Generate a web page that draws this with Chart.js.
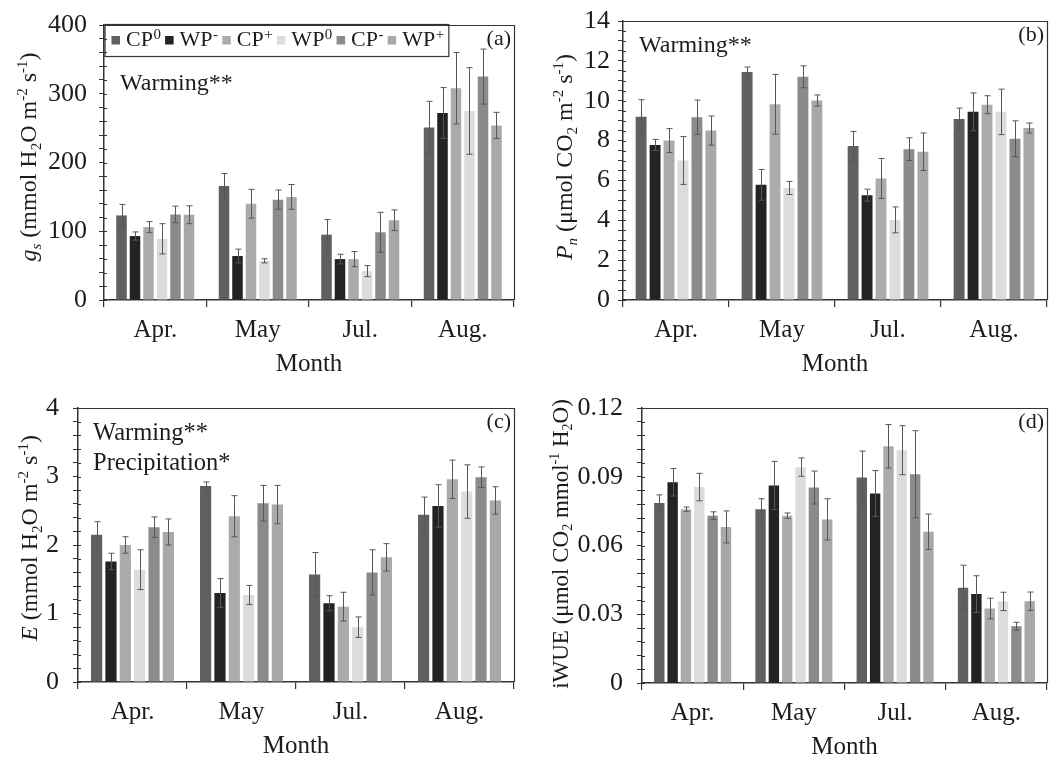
<!DOCTYPE html>
<html>
<head>
<meta charset="utf-8">
<script src="https://cdn.jsdelivr.net/npm/chart.js@4.4.1/dist/chart.umd.min.js"></script>
<style>
html,body{margin:0;padding:0;background:#fff;}
#wrap{position:relative;width:1063px;height:763px;overflow:hidden;background:#fff;}
canvas{position:absolute;}
</style>
</head>
<body>
<div id="wrap">
<canvas id="ca" width="531" height="381" style="left:0;top:0"></canvas>
<canvas id="cb" width="532" height="381" style="left:531px;top:0"></canvas>
<canvas id="cc" width="531" height="382" style="left:0;top:381px"></canvas>
<canvas id="cd" width="532" height="382" style="left:531px;top:381px"></canvas>
</div>
<script>
// ---------- categories & series ----------
const months = ['Apr.', 'May', 'Jul.', 'Aug.'];
const seriesNames = ['CP⁰', 'WP⁻', 'CP⁺', 'WP⁰', 'CP⁻', 'WP⁺'];
const seriesBase = ['CP', 'WP', 'CP', 'WP', 'CP', 'WP'];
const seriesSup = ['0', '-', '+', '0', '-', '+'];
const seriesColors = ['#606060', '#232323', '#ababab', '#dcdcdc', '#8b8b8b', '#a8a8a8'];

// ---------- (a) gs ----------
const gsMean = [
  [123, 166, 95, 251],
  [93, 64, 59.5, 272],
  [106, 140, 59.5, 308],
  [89, 57, 42, 275],
  [124.5, 146, 98.5, 325],
  [124, 150, 116, 254]
];
const gsErr = [
  [16, 18, 22, 38],
  [6, 10, 7, 37],
  [8, 21, 11, 52],
  [22, 3, 8, 63],
  [12, 14, 29, 40],
  [13, 18, 15, 19]
];
// ---------- (b) Pn ----------
const pnMean = [
  [9.2, 11.44, 7.73, 9.08],
  [7.78, 5.78, 5.26, 9.44],
  [8.0, 9.82, 6.1, 9.8],
  [7.0, 5.62, 4.02, 9.44],
  [9.17, 11.2, 7.57, 8.09],
  [8.5, 10.01, 7.44, 8.63]
];
const pnErr = [
  [0.85, 0.25, 0.73, 0.55],
  [0.28, 0.77, 0.3, 0.95],
  [0.6, 1.5, 1.0, 0.45],
  [1.2, 0.33, 0.65, 1.14],
  [0.86, 0.55, 0.57, 0.9],
  [0.73, 0.28, 0.94, 0.25]
];
// ---------- (c) E ----------
const eMean = [
  [2.15, 2.86, 1.57, 2.44],
  [1.76, 1.30, 1.15, 2.57],
  [2.0, 2.42, 1.10, 2.96],
  [1.64, 1.27, 0.80, 2.78],
  [2.26, 2.61, 1.60, 2.99],
  [2.19, 2.59, 1.82, 2.65]
];
const eErr = [
  [0.19, 0.06, 0.32, 0.26],
  [0.12, 0.21, 0.11, 0.31],
  [0.12, 0.3, 0.21, 0.28],
  [0.29, 0.14, 0.15, 0.39],
  [0.15, 0.26, 0.33, 0.15],
  [0.19, 0.28, 0.2, 0.2]
];
// ---------- (d) iWUE ----------
const wueMean = [
  [0.0786, 0.0758, 0.0897, 0.0416],
  [0.0876, 0.0862, 0.0827, 0.0388],
  [0.0758, 0.0730, 0.1033, 0.0325],
  [0.0855, 0.0942, 0.1016, 0.0356],
  [0.0730, 0.0853, 0.0911, 0.0248],
  [0.0681, 0.0714, 0.0660, 0.0357]
];
const wueErr = [
  [0.0035, 0.0046, 0.0115, 0.0098],
  [0.006, 0.0105, 0.010, 0.008],
  [0.001, 0.0012, 0.0095, 0.0045],
  [0.006, 0.004, 0.0107, 0.004],
  [0.0017, 0.0072, 0.019, 0.0017],
  [0.007, 0.009, 0.0077, 0.004]
];

// ---------- axis ranges / tick labels ----------
const gsAxis = {max: 400, minor: 20, major: 100, dec: 0};
const pnAxis = {max: 14, minor: 0.5, major: 2, dec: 0};
const eAxis = {max: 4, minor: 0.2, major: 1, dec: 0};
const wueAxis = {max: 0.12, minor: 0.006, major: 0.03, dec: 2};

// ---------- texts ----------
const xTitle = 'Month';
const panelLetters = ['(a)', '(b)', '(c)', '(d)'];
const notesA = ['Warming**'];
const notesB = ['Warming**'];
const notesC = ['Warming**', 'Precipitation*'];
const notesD = [];
const titleA = [{t:'g', it:1}, {t:'s', it:1, sub:1}, {t:' (mmol H'}, {t:'2', sub:1}, {t:'O m'}, {t:'-2', sup:1}, {t:' s'}, {t:'-1', sup:1}, {t:')'}];
const titleB = [{t:'P', it:1}, {t:'n', it:1, sub:1}, {t:' (μmol CO'}, {t:'2', sub:1}, {t:' m'}, {t:'-2', sup:1}, {t:' s'}, {t:'-1', sup:1}, {t:')'}];
const titleC = [{t:'E', it:1}, {t:' (mmol H'}, {t:'2', sub:1}, {t:'O m'}, {t:'-2', sup:1}, {t:' s'}, {t:'-1', sup:1}, {t:')'}];
const titleD = [{t:'iWUE (μmol CO'}, {t:'2', sub:1}, {t:' mmol'}, {t:'-1', sup:1}, {t:' H'}, {t:'2', sub:1}, {t:'O)'}];

const FAM = "'Liberation Serif', 'Times New Roman', serif";
const TXT = '#1c1c1c';
const AXC = '#333333';
Chart.defaults.font.family = FAM;
Chart.defaults.color = TXT;

function drawRich(ctx, segs, cx, cy, size) {
  const fontFor = s => (s.it ? 'italic ' : '') + ((s.sub || s.sup) ? Math.round(size * 0.62) : size) + 'px ' + FAM;
  let total = 0;
  const ws = segs.map(s => { ctx.font = fontFor(s); const w = ctx.measureText(s.t).width; total += w; return w; });
  ctx.save();
  ctx.translate(cx, cy);
  ctx.rotate(-Math.PI / 2);
  ctx.textAlign = 'left';
  ctx.textBaseline = 'alphabetic';
  ctx.fillStyle = TXT;
  let x = -total / 2;
  const base = size * 0.33;
  segs.forEach((s, i) => {
    ctx.font = fontFor(s);
    let dy = base;
    if (s.sub) dy += size * 0.2;
    if (s.sup) dy -= size * 0.38;
    ctx.fillText(s.t, x, dy);
    x += ws[i];
  });
  ctx.restore();
}

function drawLegend(chart) {
  const ctx = chart.ctx, ca = chart.chartArea;
  const top = ca.top - 1, left = ca.left + 0.5, h = 32;
  ctx.save();
  ctx.textAlign = 'left';
  ctx.textBaseline = 'alphabetic';
  let x = left + 7;
  chart.data.datasets.forEach((ds, i) => {
    ctx.fillStyle = ds.backgroundColor;
    ctx.fillRect(x, top + 12, 8.5, 8.5);
    x += 8.5 + 6;
    ctx.fillStyle = TXT;
    ctx.font = '22px ' + FAM;
    ctx.fillText(seriesBase[i], x, top + 21.5);
    x += ctx.measureText(seriesBase[i]).width + 0.5;
    ctx.font = '15px ' + FAM;
    ctx.fillText(seriesSup[i], x, top + 14.5);
    x += ctx.measureText(seriesSup[i]).width + 4.2;
  });
  const right = x;
  ctx.strokeStyle = AXC;
  ctx.lineWidth = 1.2;
  ctx.strokeRect(left + 0.5, top + 0.5, right - left, h);
  ctx.restore();
}

const errorBars = {
  id: 'errorBars',
  afterDatasetsDraw(chart) {
    const ctx = chart.ctx, ys = chart.scales.y;
    ctx.save();
    ctx.strokeStyle = '#575757';
    ctx.lineWidth = 1;
    chart.data.datasets.forEach((ds, i) => {
      const meta = chart.getDatasetMeta(i);
      meta.data.forEach((bar, j) => {
        const v = ds.data[j], e = ds.errors[j];
        const yt = ys.getPixelForValue(v + e), yb = ys.getPixelForValue(v - e);
        const x = Math.round(bar.x) + 0.5, hw = 3;
        ctx.beginPath();
        ctx.moveTo(x, yt); ctx.lineTo(x, yb);
        ctx.moveTo(x - hw, yt); ctx.lineTo(x + hw, yt);
        ctx.moveTo(x - hw, yb); ctx.lineTo(x + hw, yb);
        ctx.stroke();
      });
    });
    ctx.restore();
  }
};

function makeDeco(p) {
  return {
    id: 'deco',
    afterDraw(chart) {
      const ctx = chart.ctx, ca = chart.chartArea, ys = chart.scales.y;
      ctx.save();
      ctx.strokeStyle = AXC;
      ctx.lineWidth = 1.2;
      ctx.beginPath();
      ctx.moveTo(ca.left, ca.top + 0.5);
      ctx.lineTo(ca.right + 0.5, ca.top + 0.5);
      ctx.lineTo(ca.right + 0.5, ca.bottom);
      ctx.stroke();
      ctx.lineWidth = 1;
      ctx.beginPath();
      ys.ticks.forEach(t => {
        const py = Math.round(ys.getPixelForValue(t.value)) + 0.5;
        ctx.moveTo(ca.left, py); ctx.lineTo(ca.left + 3, py);
      });
      ctx.stroke();
      drawRich(ctx, p.title, p.titleX, p.titleY, p.titleSize);
      ctx.fillStyle = TXT;
      ctx.textAlign = 'left';
      ctx.textBaseline = 'alphabetic';
      ctx.font = p.noteSize + 'px ' + FAM;
      p.notes.forEach((n, i) => ctx.fillText(n, ca.left + p.noteDx, ca.top + p.noteDy + i * 29.5));
      ctx.font = '22px ' + FAM;
      ctx.textAlign = 'right';
      ctx.fillText(p.letter, ca.right - 3, ca.top + 20);
      ctx.restore();
      if (p.legend) drawLegend(chart);
    }
  };
}

function makeChart(p) {
  const ax = p.axis;
  const ratio = Math.round(ax.major / ax.minor);
  const datasets = seriesNames.map((name, i) => ({
    label: name,
    data: p.mean[i],
    errors: p.err[i],
    backgroundColor: seriesColors[i],
    borderWidth: 0,
    categoryPercentage: 0.79,
    barPercentage: 0.78
  }));
  return new Chart(document.getElementById(p.id), {
    type: 'bar',
    data: {labels: months, datasets},
    options: {
      responsive: false,
      animation: false,
      layout: {padding: {top: p.T, right: p.W - p.R, left: 0, bottom: 0}},
      plugins: {legend: {display: false}, tooltip: {enabled: false}},
      scales: {
        x: {
          grid: {display: true, drawOnChartArea: false, drawTicks: true, tickLength: 7, color: AXC, lineWidth: 1.2, offset: true},
          border: {display: true, color: AXC, width: 1.5},
          ticks: {font: {size: 25}, color: TXT, padding: 8, maxRotation: 0, autoSkip: false},
          title: {display: true, text: xTitle, font: {size: 25}, color: TXT, padding: {top: 0, bottom: p.mb}},
          afterFit: s => { s.height = p.H - p.B; }
        },
        y: {
          min: 0, max: ax.max,
          grid: {drawOnChartArea: false, drawTicks: true, tickLength: 5, color: AXC, lineWidth: 1},
          border: {display: true, color: AXC, width: 1.5},
          ticks: {
            stepSize: ax.minor, autoSkip: false, padding: p.tp, color: TXT,
            font: {size: 26, lineHeight: 1},
            callback: v => {
              const k = Math.round(v / ax.minor);
              if (k % ratio !== 0) return '';
              const val = k * ax.minor;
              return val === 0 ? '0' : val.toFixed(ax.dec);
            }
          },
          afterFit: s => { s.width = p.L; }
        }
      }
    },
    plugins: [errorBars, makeDeco(p)]
  });
}

makeChart({id: 'ca', W: 531, H: 381, L: 104, R: 514, T: 14, B: 300, axis: gsAxis, mean: gsMean, err: gsErr,
  title: titleA, titleX: 28, titleY: 157, titleSize: 24, notes: notesA, noteSize: 24, noteDx: 16, noteDy: 65, letter: panelLetters[0], legend: true, tp: 12, mb: 2});
makeChart({id: 'cb', W: 532, H: 381, L: 92, R: 516, T: 14, B: 300, axis: pnAxis, mean: pnMean, err: pnErr,
  title: titleB, titleX: 33, titleY: 157, titleSize: 24, notes: notesB, noteSize: 24, noteDx: 16, noteDy: 31, letter: panelLetters[1], legend: false, tp: 8, mb: 2});
makeChart({id: 'cc', W: 531, H: 382, L: 78, R: 514, T: 14, B: 301, axis: eAxis, mean: eMean, err: eErr,
  title: titleC, titleX: 29, titleY: 157, titleSize: 24, notes: notesC, noteSize: 24.5, noteDx: 15, noteDy: 32, letter: panelLetters[2], legend: false, tp: 14, mb: 2});
makeChart({id: 'cd', W: 532, H: 382, L: 111, R: 516, T: 15, B: 302, axis: wueAxis, mean: wueMean, err: wueErr,
  title: titleD, titleX: 29, titleY: 163, titleSize: 23, notes: notesD, noteSize: 24, noteDx: 16, noteDy: 32, letter: panelLetters[3], legend: false, tp: 14, mb: 1});
</script>
</body>
</html>
